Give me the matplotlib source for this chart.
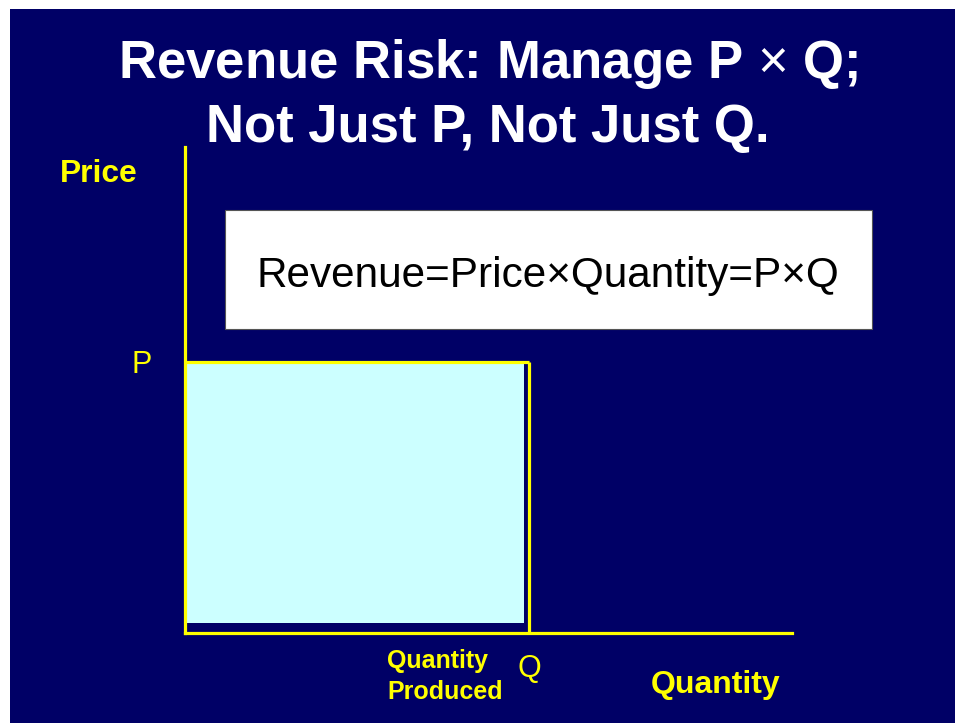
import matplotlib.pyplot as plt
from matplotlib.patches import Rectangle

# slide data (axis units 0..10)
price_level = 5.58       # P
quantity_level = 5.67    # Q
tick_labels = ["P", "Q"]
title_lines = ["Revenue Risk: Manage P $\\mathrm{\u00d7}$ Q;", "Not Just P, Not Just Q."]
formula = "Revenue=Price\u00d7Quantity=P\u00d7Q"

NAVY = "#000066"
YEL = "#ffff00"
CYAN = "#ccffff"
W, H = 955, 723

plt.rcParams['font.family'] = ['Liberation Sans', 'DejaVu Sans']
plt.rcParams['mathtext.fontset'] = 'custom'
plt.rcParams['mathtext.rm'] = 'Liberation Sans'
plt.rcParams['mathtext.it'] = 'Liberation Sans:italic'
plt.rcParams['mathtext.bf'] = 'Liberation Sans:bold'

fig = plt.figure(figsize=(W / 100, H / 100), dpi=100)
fig.patch.set_facecolor("white")

def fx(x):
    return x / W

def fy(y):
    return 1 - y / H

# navy slide background (thin white margin at top/left)
fig.patches.append(Rectangle((fx(10), 0), 1 - fx(10), fy(9), transform=fig.transFigure,
                             facecolor=NAVY, edgecolor="none", zorder=-1))

# title
fig.text(fx(488), fy(78), title_lines[0], color="white", fontsize=38, fontweight="bold",
         ha="center", va="baseline")
fig.text(fx(488), fy(142), title_lines[1], color="white", fontsize=38, fontweight="bold",
         ha="center", va="baseline")

# formula box
fig.patches.append(Rectangle((fx(225), fy(329)), fx(872) - fx(225), fy(210) - fy(329),
                             transform=fig.transFigure, facecolor="white",
                             edgecolor="#555555", linewidth=0.8, zorder=1))
fig.text(fx(548), fy(287), formula, color="black", fontsize=30.4, ha="center", va="baseline",
         zorder=2)

# chart axes
ax = fig.add_axes([fx(185), fy(633), fx(792) - fx(185), fy(147) - fy(633)])
ax.set_facecolor("none")
ax.set_xlim(0, 10)
ax.set_ylim(0, 10)
for s in ["top", "right"]:
    ax.spines[s].set_visible(False)
for s in ["left", "bottom"]:
    ax.spines[s].set_color(YEL)
    ax.spines[s].set_linewidth(2.3)

# revenue area P x Q
ax.bar(0, price_level - 0.2, width=quantity_level - 0.08, bottom=0.2, align="edge",
       color=CYAN, zorder=1)
ax.plot([0, quantity_level], [price_level, price_level], color=YEL, lw=2.3,
        solid_capstyle="butt", zorder=2)
ax.plot([quantity_level, quantity_level], [0, price_level], color=YEL, lw=2.3,
        solid_capstyle="butt", zorder=2)

ax.set_yticks([price_level])
ax.set_yticklabels([tick_labels[0]])
ax.set_xticks([quantity_level])
ax.set_xticklabels([tick_labels[1]])
ax.tick_params(axis="both", length=0, labelcolor=YEL, labelsize=22)
ax.tick_params(axis="y", pad=24)
ax.tick_params(axis="x", pad=15)

# axis titles
fig.text(fx(60), fy(182), "Price", color=YEL, fontsize=22.9, fontweight="bold",
         ha="left", va="baseline")
fig.text(fx(651), fy(693), "Quantity", color=YEL, fontsize=23, fontweight="bold",
         ha="left", va="baseline")
fig.text(fx(387), fy(668), "Quantity", color=YEL, fontsize=18, fontweight="bold",
         ha="left", va="baseline")
fig.text(fx(387), fy(699), "Produced", color=YEL, fontsize=18, fontweight="bold",
         ha="left", va="baseline")

fig.savefig("out.png", dpi=100, facecolor=fig.get_facecolor())
